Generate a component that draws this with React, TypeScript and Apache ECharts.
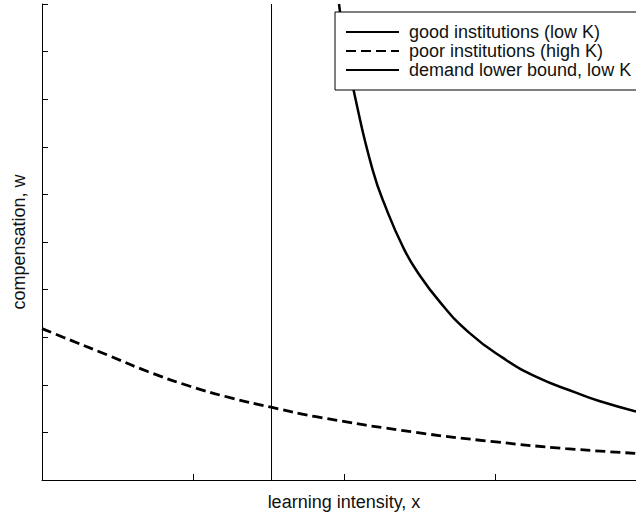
import React, { useEffect, useRef } from "react";
import * as echarts from "echarts";

// good institutions (low K): solid curve
const goodX = [1.967, 2.0, 2.073, 2.19, 2.285, 2.39, 2.48, 2.64, 2.83, 3.05, 3.27, 3.54, 3.69, 3.934];
const goodY = [10.0, 9.25, 8.05, 6.51, 5.66, 4.9, 4.4, 3.72, 3.09, 2.57, 2.17, 1.83, 1.66, 1.44];

// poor institutions (high K): dashed curve
const poorX = [0, 0.14, 0.43, 0.7, 0.98, 1.245, 1.517, 1.815, 2.477, 3.007, 3.47, 3.934];
const poorY = [3.18, 3.0, 2.63, 2.28, 1.97, 1.73, 1.53, 1.33, 1.0, 0.8, 0.66, 0.56];

// demand lower bound, low K: vertical line
const demandX = [1.52, 1.52];
const demandY = [0, 10];

const seriesNames = [
  "good institutions (low K)",
  "poor institutions (high K)",
  "demand lower bound, low K",
];

const FONT = "Liberation Sans, Arial, Helvetica, sans-serif";

const zip = (xs: number[], ys: number[]) => xs.map((x, i) => [x, ys[i]]);

export default function App() {
  const ref = useRef<HTMLDivElement>(null);
  useEffect(() => {
    document.body.style.margin = "0";
    if (!ref.current) return;
    const chart = echarts.init(ref.current, null, { renderer: "svg" });
    const axisCommon = {
      type: "value" as const,
      axisLine: { show: true, lineStyle: { color: "#000", width: 1 } },
      axisTick: { show: true, inside: true, length: 6, lineStyle: { color: "#000", width: 1 } },
      axisLabel: { show: false },
      splitLine: { show: false },
      nameLocation: "middle" as const,
      nameTextStyle: { fontSize: 18, fontFamily: FONT, color: "#111" },
    };
    chart.setOption({
      animation: false,
      backgroundColor: "#fff",
      grid: { left: 42, top: 4, right: 0, bottom: 36, containLabel: false },
      xAxis: { ...axisCommon, min: 0, max: 4, interval: 1, name: "learning intensity, x", nameGap: 13 },
      yAxis: { ...axisCommon, min: 0, max: 10, interval: 1, name: "compensation, w", nameGap: 14 },
      legend: {
        orient: "vertical",
        left: 335,
        top: 12,
        itemWidth: 53,
        itemHeight: 14,
        itemGap: 1,
        padding: [11, 10, 11, 10],
        backgroundColor: "#fff",
        borderColor: "#000",
        borderWidth: 1,
        borderRadius: 0,
        itemStyle: { opacity: 0, color: "rgba(0,0,0,0)", borderWidth: 0 },
        textStyle: { fontSize: 18, fontFamily: FONT, color: "#111", padding: [0, 0, 0, 5] },
        data: seriesNames,
      },
      series: [
        {
          name: seriesNames[0],
          type: "line",
          data: zip(goodX, goodY),
          smooth: 0.5,
          symbol: "none",
          clip: true,
          lineStyle: { color: "#000", width: 2.5, type: "solid" },
          itemStyle: { color: "#000" },
        },
        {
          name: seriesNames[1],
          type: "line",
          data: zip(poorX, poorY),
          smooth: 0.5,
          symbol: "none",
          clip: true,
          lineStyle: { color: "#000", width: 2.8, type: [10, 5] },
          itemStyle: { color: "#000" },
        },
        {
          name: seriesNames[2],
          type: "line",
          data: zip(demandX, demandY),
          symbol: "none",
          lineStyle: { color: "#000", width: 1, type: "solid" },
          itemStyle: { color: "#000" },
        },
      ],
    });
    return () => chart.dispose();
  }, []);
  return (
    <div style={{ width: 636, height: 516, overflow: "hidden", position: "relative" }}>
      <div ref={ref} style={{ width: 646, height: 516 }} />
    </div>
  );
}
